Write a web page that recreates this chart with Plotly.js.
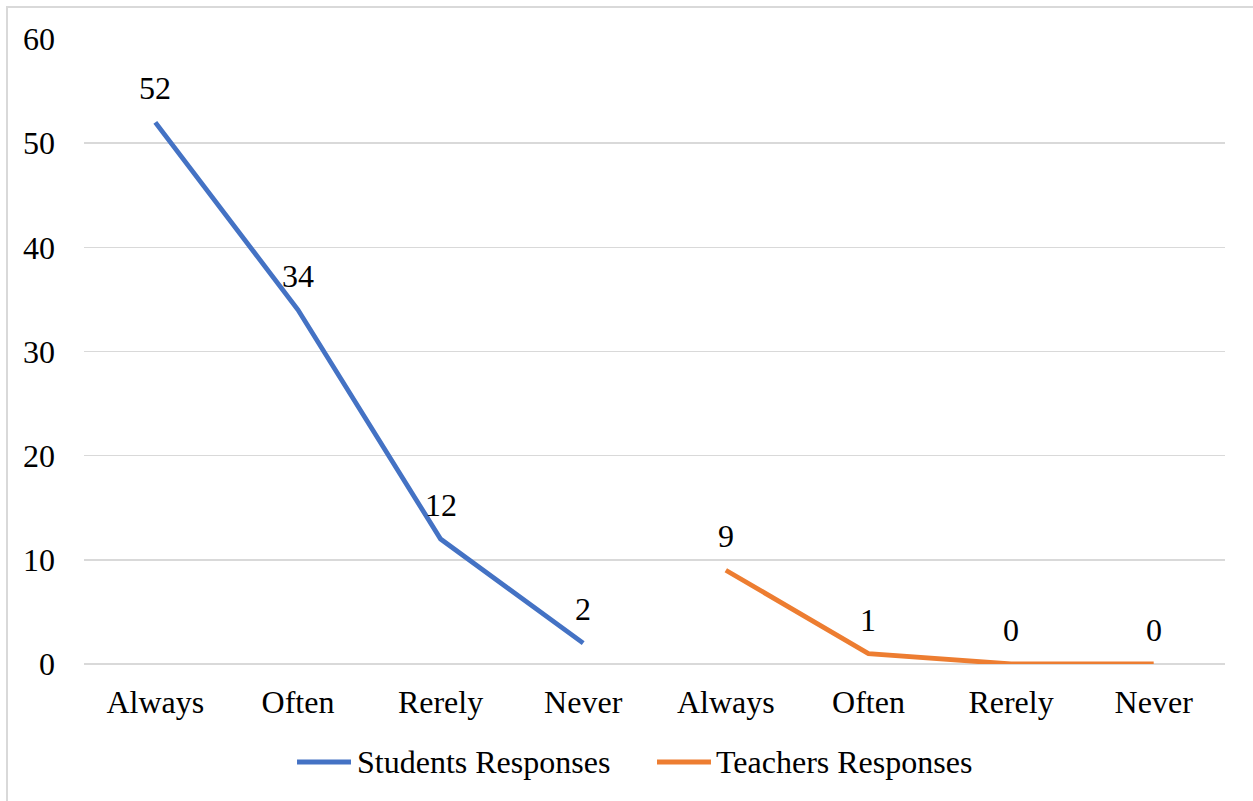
<!DOCTYPE html>
<html>
<head>
<meta charset="utf-8">
<script src="https://cdn.plot.ly/plotly-3.0.1.min.js"></script>
<style>
  html, body { margin: 0; padding: 0; background: #ffffff; }
  #chart { width: 1253px; height: 801px; }
</style>
</head>
<body>
<div id="chart"></div>
<script>
// Response frequency categories, repeated for each group
const categories = ["Always", "Often", "Rerely", "Never", "Always", "Often", "Rerely", "Never"];
const studentsName = "Students Responses";
const teachersName = "Teachers Responses";
const studentsValues = [52, 34, 12, 2];
const teachersValues = [9, 1, 0, 0];

// Category slots: students occupy the first four, teachers the last four
const slots = categories.map((_, i) => i);
const studentsX = slots.slice(0, 4);
const teachersX = slots.slice(4, 8);

const FONT = '"Liberation Serif", "Times New Roman", serif';
const FONT_SIZE = 32;
const BLUE = "#4472C4";
const ORANGE = "#ED7D31";
const LINE_W = 4.8;

const traces = [
  {
    x: studentsX, y: studentsValues, name: studentsName,
    type: "scatter", mode: "lines",
    line: { color: BLUE, width: LINE_W }, hoverinfo: "x+y"
  },
  {
    x: teachersX, y: teachersValues, name: teachersName,
    type: "scatter", mode: "lines",
    line: { color: ORANGE, width: LINE_W }, hoverinfo: "x+y"
  }
];

// Value labels above each point
function labels(xs, ys) {
  return xs.map((x, i) => ({
    x: x, y: ys[i], xref: "x", yref: "y",
    text: String(ys[i]), showarrow: false,
    yanchor: "bottom", yshift: 14,
    font: { family: FONT, size: FONT_SIZE, color: "#000000" }
  }));
}

// Legend drawn below the axis: a short line swatch followed by the series name
const legendItems = [
  { name: studentsName, color: BLUE, x0: 0.1867, x1: 0.2340, tx: 0.2375 },
  { name: teachersName, color: ORANGE, x0: 0.5022, x1: 0.5495, tx: 0.5521 }
];
const legendY = -0.1568;
const legendShapes = legendItems.map(it => ({
  type: "line", xref: "paper", yref: "paper",
  x0: it.x0, x1: it.x1, y0: legendY, y1: legendY,
  line: { color: it.color, width: LINE_W }
}));
const legendText = legendItems.map(it => ({
  x: it.tx, y: legendY, xref: "paper", yref: "paper",
  text: it.name, showarrow: false, xanchor: "left", yanchor: "middle",
  font: { family: FONT, size: FONT_SIZE, color: "#000000" }
}));

const layout = {
  width: 1253, height: 801,
  margin: { l: 84, r: 28, t: 39, b: 137 },
  paper_bgcolor: "#ffffff", plot_bgcolor: "#ffffff",
  font: { family: FONT, size: FONT_SIZE, color: "#000000" },
  showlegend: false,
  xaxis: {
    range: [-0.5, 7.5], tickmode: "array",
    tickvals: slots, ticktext: categories,
    showgrid: false, zeroline: false, showline: false,
    ticks: "", ticklabelstandoff: 16,
    tickfont: { family: FONT, size: FONT_SIZE, color: "#000000" },
    fixedrange: true
  },
  yaxis: {
    range: [0, 60], tickmode: "linear", tick0: 0, dtick: 10,
    showgrid: true, gridcolor: "#d9d9d9", gridwidth: 1.5,
    zeroline: true, zerolinecolor: "#d9d9d9", zerolinewidth: 1.5,
    showline: false, ticks: "", ticklabelstandoff: 28,
    tickfont: { family: FONT, size: FONT_SIZE, color: "#000000" },
    fixedrange: true
  },
  annotations: labels(studentsX, studentsValues)
    .concat(labels(teachersX, teachersValues))
    .concat(legendText),
  shapes: [
    {
      type: "rect", xref: "paper", yref: "paper",
      x0: -0.0675, x1: 1.2, y0: -0.5, y1: 1.0512,
      line: { color: "#d9d9d9", width: 2 }, fillcolor: "rgba(0,0,0,0)",
      layer: "below"
    }
  ].concat(legendShapes)
};

Plotly.newPlot("chart", traces, layout, { displayModeBar: false, staticPlot: true });
</script>
</body>
</html>
